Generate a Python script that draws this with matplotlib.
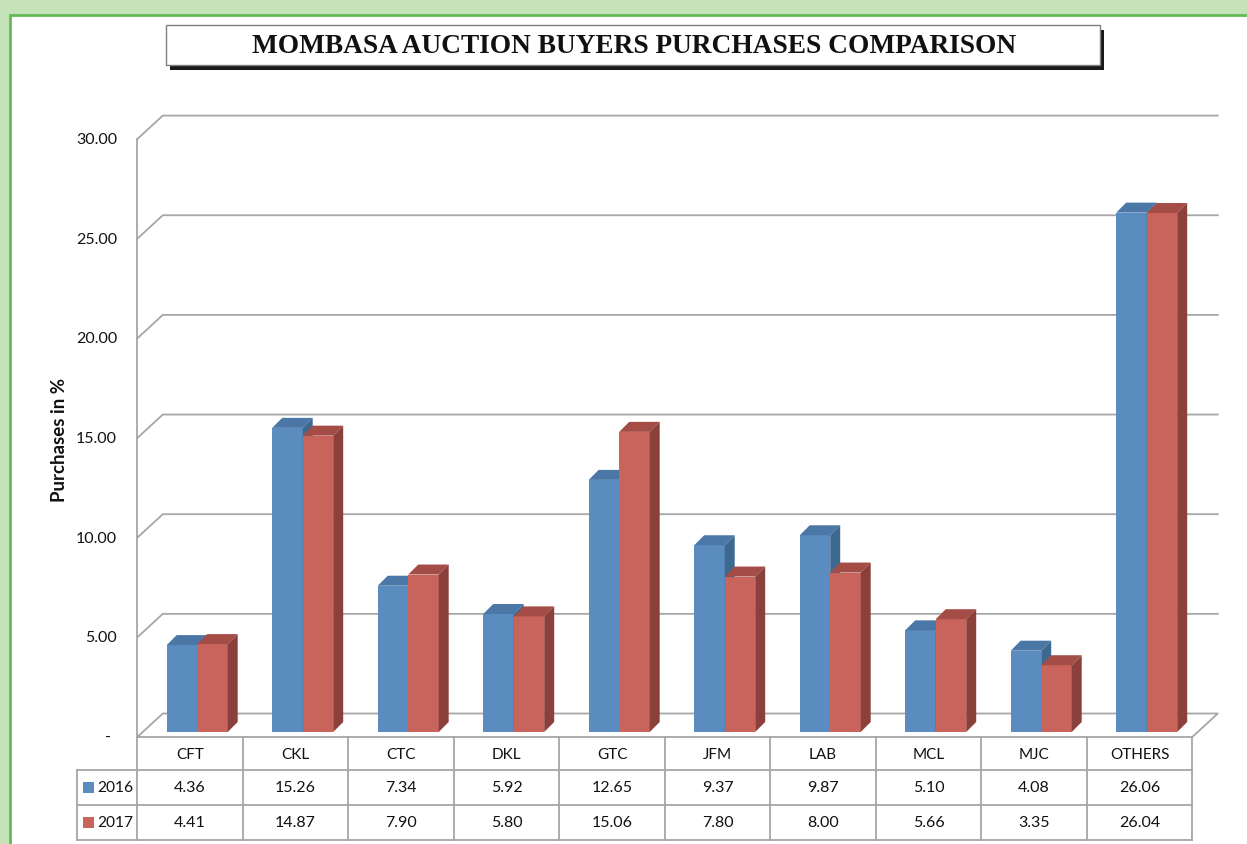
import matplotlib.pyplot as plt
from matplotlib.patches import Polygon, Rectangle

buyers = ['CFT', 'CKL', 'CTC', 'DKL', 'GTC', 'JFM', 'LAB', 'MCL', 'MJC', 'OTHERS']
years = ['2016', '2017']
share_2016 = [4.36, 15.26, 7.34, 5.92, 12.65, 9.37, 9.87, 5.10, 4.08, 26.06]
share_2017 = [4.41, 14.87, 7.90, 5.80, 15.06, 7.80, 8.00, 5.66, 3.35, 26.04]
yticks = [0, 5, 10, 15, 20, 25, 30]

W, H = 1247, 845
X0, XS = 137.3, 105.5   # pixel of first category edge, pixels per category
Y0, YS = 738.0, 19.93   # pixel of value 0 (front plane), pixels per unit

def px(x):
    return (x - X0) / XS

def py(y):
    return (Y0 - y) / YS

fig = plt.figure(figsize=(W / 100, H / 100), dpi=100)
fig.patch.set_facecolor('#c6e2b9')
ax = fig.add_axes([0, 0, 1, 1])
ax.set_xlim(px(0), px(W))
ax.set_ylim(py(H), py(0))
ax.axis('off')

# white sheet with green border
ax.add_patch(Rectangle((px(10.5), py(H + 5)), (W + 10) / XS, (H - 11) / YS,
                       facecolor='white', edgecolor='#62bb52', lw=2, zorder=0))

grid_c = '#a6a6a6'
ddx, ddy = 25.5 / XS, 23.5 / YS   # depth of the 3d box
n = len(buyers)

# walls / gridlines
for v in yticks[1:]:
    ax.plot([0, ddx, n + ddx], [v, v + ddy, v + ddy], color=grid_c, lw=1.3, zorder=1)
ax.plot([0, ddx, n + ddx, n, 0], [0, ddy, ddy, 0, 0], color=grid_c, lw=1.3, zorder=1)

# table rows (pixel positions)
r1, r2, r3 = py(770.7), py(806), py(840.7)
leg_x = px(76.7)
ax.plot([0, 0], [yticks[-1], r3], color=grid_c, lw=1.3, zorder=1)
for i in range(1, n + 1):
    ax.plot([i, i], [0, r3], color=grid_c, lw=1.3, zorder=1)
for r in (r1, r2, r3):
    ax.plot([leg_x, n], [r, r], color=grid_c, lw=1.3, zorder=1)
ax.plot([leg_x, leg_x], [r1, r3], color=grid_c, lw=1.3, zorder=1)

# 3d bars
base = 5 / YS
off = 29.4 / XS
bw = 30.5 / XS
bdx, bdy = 10 / XS, 10 / YS
styles = [('#5b8cc0', '#4a77a6', '#3d6991'), ('#c8645c', '#a44c46', '#8c403b')]
for i in range(n):
    for s, vals in enumerate([share_2016, share_2017]):
        front, top, side = styles[s]
        x0 = i + off + s * bw
        x1 = x0 + bw
        t = base + vals[i]
        ax.add_patch(Polygon([(x0, base), (x1, base), (x1, t), (x0, t)],
                             facecolor=front, edgecolor='none', zorder=3))
        ax.add_patch(Polygon([(x0, t), (x1, t), (x1 + bdx, t + bdy), (x0 + bdx, t + bdy)],
                             facecolor=top, edgecolor='none', zorder=3))
        ax.add_patch(Polygon([(x1, base), (x1, t), (x1 + bdx, t + bdy), (x1 + bdx, base + bdy)],
                             facecolor=side, edgecolor='none', zorder=3))

# y tick labels
for v in yticks:
    if v == 0:
        ax.text(px(108), v, '-', ha='center', va='center', fontsize=11.5,
                family='Lato', color='#111111')
    else:
        ax.text(px(117), v, f'{v:.2f}', ha='right', va='center', fontsize=11.5,
                family='Lato', color='#111111')

ax.text(px(60), py(440), 'Purchases in %', rotation=90, ha='center', va='center',
        fontsize=13.5, family='Lato', fontweight='bold', color='#111111')

# table text
tfs = 11.5
for i, b in enumerate(buyers):
    ax.text(i + 0.5, r1 / 2 - 0.05, b, ha='center', va='center', fontsize=11,
            family='Lato', color='#111111')
    ax.text(i + 0.5, (r1 + r2) / 2, f'{share_2016[i]:.2f}', ha='center', va='center',
            fontsize=tfs, family='Lato', color='#111111')
    ax.text(i + 0.5, (r2 + r3) / 2, f'{share_2017[i]:.2f}', ha='center', va='center',
            fontsize=tfs, family='Lato', color='#111111')

for s, (yr, rr) in enumerate(zip(years, [(r1, r2), (r2, r3)])):
    ym = (rr[0] + rr[1]) / 2
    ax.add_patch(Rectangle((px(82.7), ym - 5.8 / YS), 11.6 / XS, 11.6 / YS,
                           facecolor=styles[s][0], edgecolor='none', zorder=3))
    ax.text(px(97.5), ym, yr, ha='left', va='center', fontsize=11.2,
            family='Lato', color='#111111')

# title box with shadow
ax.add_patch(Rectangle((px(170), py(70.5)), 934 / XS, 40 / YS,
                       facecolor='#1a1a1a', edgecolor='none', zorder=4))
ax.add_patch(Rectangle((px(166), py(66)), 934 / XS, 40 / YS,
                       facecolor='white', edgecolor='#7f7f7f', lw=1, zorder=5))
ax.text(px(634), py(46.5), 'MOMBASA AUCTION BUYERS PURCHASES COMPARISON',
        ha='center', va='center', fontsize=19.7, family='Liberation Serif',
        fontweight='bold', color='#111111', zorder=6)

fig.savefig('out.png', dpi=100)
